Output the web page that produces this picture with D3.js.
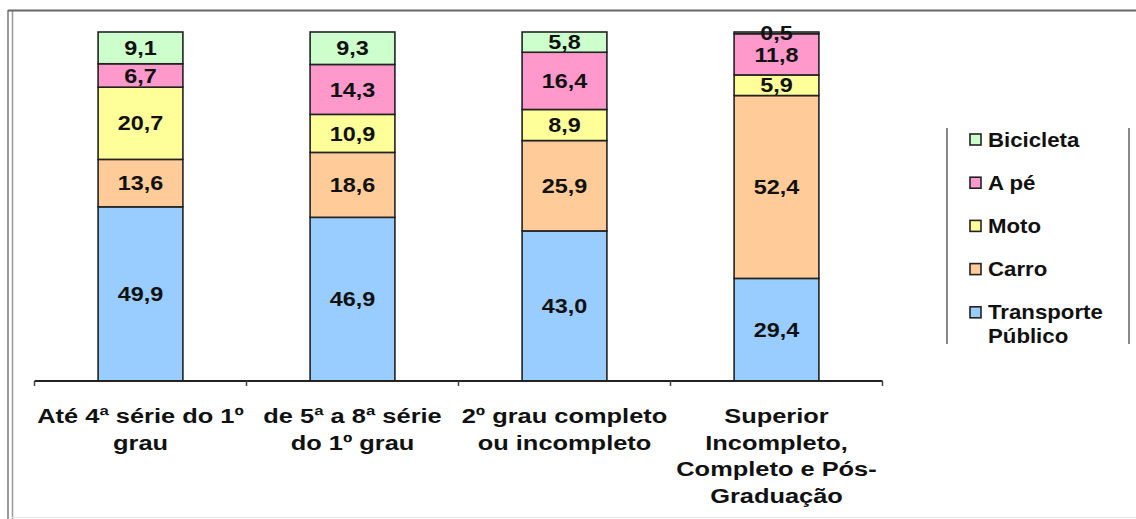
<!DOCTYPE html>
<html>
<head>
<meta charset="utf-8">
<script src="https://cdn.jsdelivr.net/npm/d3@7"></script>
<style>
  body { margin: 0; background: #fff; }
  svg { font-family: Arial, "Liberation Sans", sans-serif; }
</style>
</head>
<body>
<svg id="chart" width="1136" height="519"></svg>
<script>
// categories (label lines)
var categories = ["c1", "c2", "c3", "c4"];
var catLabels = [
    ["Até 4ª série do 1º", "grau"],
    ["de 5ª a 8ª série", "do 1º grau"],
    ["2º grau completo", "ou incompleto"],
    ["Superior", "Incompleto,", "Completo e Pós-", "Graduação"]
];

// series, bottom to top
var seriesNames = ["Transporte Público", "Carro", "Moto", "A pé", "Bicicleta"];
var transporte = [49.9, 46.9, 43.0, 29.4];
var carro      = [13.6, 18.6, 25.9, 52.4];
var moto       = [20.7, 10.9, 8.9, 5.9];
var ape        = [6.7, 14.3, 16.4, 11.8];
var bicicleta  = [9.1, 9.3, 5.8, 0.5];
var colors = ["#99ccff", "#ffcc99", "#ffff99", "#ff99cc", "#ccffcc"];

// legend, top to bottom
var legendNames = [["Bicicleta"], ["A pé"], ["Moto"], ["Carro"], ["Transporte", "Público"]];
var legendColors = ["#ccffcc", "#ff99cc", "#ffff99", "#ffcc99", "#99ccff"];

var svg = d3.select("#chart");

// table for d3.stack
var table = categories.map(function(c, i){
    return {
        cat: c,
        "Transporte Público": transporte[i],
        "Carro": carro[i],
        "Moto": moto[i],
        "A pé": ape[i],
        "Bicicleta": bicicleta[i]
    };
});
var stacked = d3.stack().keys(seriesNames)(table);

var x = d3.scaleBand()
    .domain(categories)
    .range([34.5, 882.5])
    .paddingInner(0.6)
    .paddingOuter(0.3);

var y = d3.scaleLinear()
    .domain([0, 100])
    .range([381, 32]);

var fmt = d3.formatLocale({decimal: ",", thousands: ".", grouping: [3], currency: ["R$", ""]}).format(".1f");

// frame
svg.append("line").attr("x1", 8).attr("x2", 8).attr("y1", 10).attr("y2", 519)
    .attr("stroke", "#777").attr("stroke-width", 1.5);
svg.append("line").attr("x1", 12.5).attr("x2", 12.5).attr("y1", 10).attr("y2", 519)
    .attr("stroke", "#999").attr("stroke-width", 1.5);
svg.append("line").attr("x1", 8).attr("x2", 1136).attr("y1", 10.5).attr("y2", 10.5)
    .attr("stroke", "#666").attr("stroke-width", 2);
svg.append("line").attr("x1", 12).attr("x2", 1136).attr("y1", 517.5).attr("y2", 517.5)
    .attr("stroke", "#e4e4e4").attr("stroke-width", 1);

// bars
var groups = svg.append("g")
    .selectAll("g")
    .data(stacked)
    .enter()
    .append("g")
    .attr("fill", function(d, i){ return colors[i]; });

groups.selectAll("rect")
    .data(function(d){ return d; })
    .enter()
    .append("rect")
    .attr("x", function(d){ return x(d.data.cat); })
    .attr("y", function(d){ return y(d[1]); })
    .attr("width", x.bandwidth())
    .attr("height", function(d){ return y(d[0]) - y(d[1]); })
    .attr("stroke", "#222")
    .attr("stroke-width", 1.6);

// value labels (source image is stretched horizontally)
groups.selectAll("text")
    .data(function(d){ return d; })
    .enter()
    .append("text")
    .attr("transform", function(d){
        var cx = x(d.data.cat) + x.bandwidth() / 2;
        var cy = (y(d[0]) + y(d[1])) / 2;
        return "translate(" + cx + "," + cy + ") scale(1.17,1)";
    })
    .attr("dy", "0.36em")
    .attr("text-anchor", "middle")
    .attr("fill", "#111")
    .style("font-size", "20px")
    .style("font-weight", "bold")
    .text(function(d){ return fmt(d[1] - d[0]); });

// x axis line + ticks at category boundaries
var baseY = y(0);
svg.append("line")
    .attr("x1", x.range()[0]).attr("x2", x.range()[1])
    .attr("y1", baseY).attr("y2", baseY)
    .attr("stroke", "#222").attr("stroke-width", 2);

var bounds = d3.range(categories.length + 1).map(function(i){ return x.range()[0] + i * x.step(); });
svg.append("g").selectAll("line")
    .data(bounds)
    .enter()
    .append("line")
    .attr("x1", function(d){ return d; }).attr("x2", function(d){ return d; })
    .attr("y1", baseY).attr("y2", baseY + 5)
    .attr("stroke", "#444").attr("stroke-width", 1.5);

// category labels
var catText = svg.append("g").selectAll("text")
    .data(categories)
    .enter()
    .append("text")
    .attr("transform", function(d){
        return "translate(" + (x(d) + x.bandwidth() / 2) + ",423) scale(1.24,1)";
    })
    .attr("text-anchor", "middle")
    .attr("fill", "#111")
    .style("font-size", "20.5px")
    .style("font-weight", "bold");

catText.selectAll("tspan")
    .data(function(d, i){ return catLabels[i]; })
    .enter()
    .append("tspan")
    .attr("x", 0)
    .attr("y", function(d, j){ return j * 26.7; })
    .text(function(d){ return d; });

// legend
var legend = svg.append("g");
legend.append("line").attr("x1", 947).attr("x2", 947).attr("y1", 128).attr("y2", 344)
    .attr("stroke", "#888").attr("stroke-width", 2);
legend.append("line").attr("x1", 1129).attr("x2", 1129).attr("y1", 128).attr("y2", 344)
    .attr("stroke", "#888").attr("stroke-width", 2);

var items = legend.selectAll("g.item")
    .data(legendNames)
    .enter()
    .append("g")
    .attr("class", "item")
    .attr("transform", function(d, i){ return "translate(970," + (139.5 + i * 43.2) + ")"; });

items.append("rect")
    .attr("x", 0).attr("y", -5.5)
    .attr("width", 11).attr("height", 11)
    .attr("fill", function(d, i){ return legendColors[i]; })
    .attr("stroke", "#222").attr("stroke-width", 1.6);

items.append("text")
    .attr("transform", "translate(18,0) scale(1.14,1)")
    .attr("fill", "#111")
    .style("font-size", "19.5px")
    .style("font-weight", "bold")
    .selectAll("tspan")
    .data(function(d){ return d; })
    .enter()
    .append("tspan")
    .attr("x", 0)
    .attr("y", function(d, j){ return 7 + j * 24; })
    .text(function(d){ return d; });
</script>
</body>
</html>
